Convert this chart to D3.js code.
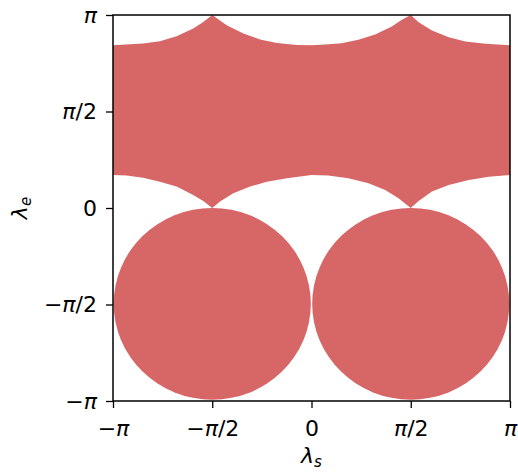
<!DOCTYPE html>
<html>
<head>
<meta charset="utf-8">
<script src="https://cdn.jsdelivr.net/npm/d3@7"></script>
<style>
  body { margin: 0; background: #fff; }
  text { font-family: "DejaVu Sans", sans-serif; }
</style>
</head>
<body>
<div id="chart-area"></div>
<script>
const PI = Math.PI;
const fillColor = '#d76666';

// axis ticks
const tickValues = [-PI, -PI / 2, 0, PI / 2, PI];
const tickLabels = ['−π', '−π/2', '0', 'π/2', 'π'];

// upper edge of the top band (lambda_s, lambda_e)
const upperX = [-PI, -2.665, -2.40, -2.135, -1.872, -1.713, -PI / 2, -1.342, -1.078, -0.813, -0.548, -0.23, 0,
                0.214, 0.477, 0.742, 1.007, 1.271, 1.43, PI / 2, 1.695, 1.906, 2.171, 2.436, 2.754, PI];
const upperY = [2.649, 2.677, 2.714, 2.795, 2.92, 3.028, PI, 2.974, 2.839, 2.742, 2.686, 2.654, 2.648,
                2.66, 2.683, 2.738, 2.825, 2.955, 3.063, PI, 3.025, 2.89, 2.78, 2.71, 2.673, 2.648];

// lower edge of the top band
const lowerX = [-PI, -2.929, -2.665, -2.40, -2.135, -1.872, -1.713, -PI / 2, -1.448, -1.237, -0.972, -0.707, -0.39, 0,
                0.267, 0.584, 0.902, 1.166, 1.377, PI / 2, 1.695, 1.906, 2.171, 2.489, 2.806, PI];
const lowerY = [0.537, 0.527, 0.494, 0.429, 0.348, 0.211, 0.114, 0.0, 0.104, 0.239, 0.348, 0.429, 0.483, 0.537,
                0.527, 0.483, 0.402, 0.293, 0.158, 0.0, 0.114, 0.267, 0.374, 0.455, 0.51, 0.537];

// the two round blobs at the bottom
const blobX = [-PI / 2, PI / 2];
const blobY = [-1.56, -1.56];
const blobR = [1.56, 1.56];

const width = 518, height = 472;
const mLeft = 113, mRight = 510, mTop = 15, mBottom = 401;
const fontSize = 22;

const svg = d3.select("#chart-area").append("svg")
  .attr("width", width)
  .attr("height", height);

const x = d3.scaleLinear().domain([-PI, PI]).range([mLeft, mRight]);
const y = d3.scaleLinear().domain([-PI, PI]).range([mBottom, mTop]);

// top band
const upper = upperX.map((v, i) => [v, upperY[i]]);
const lower = lowerX.map((v, i) => [v, lowerY[i]]).reverse();
const line = d3.line().x(d => x(d[0])).y(d => y(d[1]));

svg.append("path")
  .attr("d", line(upper.concat(lower)) + "Z")
  .attr("fill", fillColor);

// bottom blobs
svg.selectAll("ellipse.blob")
  .data(blobX)
  .enter().append("ellipse")
  .attr("class", "blob")
  .attr("cx", d => x(d))
  .attr("cy", (d, i) => y(blobY[i]))
  .attr("rx", (d, i) => x(blobR[i]) - x(0))
  .attr("ry", (d, i) => y(0) - y(blobR[i]))
  .attr("fill", fillColor);

// labels with italic pi
function piText(sel) {
  sel.each(function (d) {
    const t = d3.select(this);
    const s = tickLabels[tickValues.indexOf(d)];
    t.text(null);
    s.split(/(π)/).forEach(part => {
      if (!part) return;
      const ts = t.append("tspan").text(part);
      if (part === 'π') ts.attr("font-style", "italic");
    });
  });
}

const xAxis = svg.append("g")
  .attr("transform", `translate(0,${mBottom})`)
  .call(d3.axisBottom(x).tickValues(tickValues).tickSize(7).tickPadding(12).tickFormat(() => ''));
xAxis.selectAll(".tick text").call(piText);

const yAxis = svg.append("g")
  .attr("transform", `translate(${mLeft},0)`)
  .call(d3.axisLeft(y).tickValues(tickValues).tickSize(7).tickPadding(9).tickFormat(() => ''));
yAxis.selectAll(".tick text").call(piText);

svg.selectAll(".domain").remove();
svg.selectAll(".tick line").attr("stroke", "#000").attr("stroke-width", 1.3);
svg.selectAll(".tick text").attr("font-size", fontSize).attr("fill", "#000")
  .style("font-family", "'DejaVu Sans', sans-serif");

// frame
svg.append("rect")
  .attr("x", mLeft).attr("y", mTop)
  .attr("width", mRight - mLeft).attr("height", mBottom - mTop)
  .attr("fill", "none")
  .attr("stroke", "#000")
  .attr("stroke-width", 1.5);

// axis titles
const xl = svg.append("text")
  .attr("x", (mLeft + mRight) / 2)
  .attr("y", 463)
  .attr("text-anchor", "middle")
  .attr("font-size", fontSize);
xl.append("tspan").attr("font-style", "italic").text("λ");
xl.append("tspan").attr("font-style", "italic").attr("font-size", 15).attr("dy", 4).text("s");

const yl = svg.append("text")
  .attr("transform", `translate(27,${(mTop + mBottom) / 2}) rotate(-90)`)
  .attr("text-anchor", "middle")
  .attr("font-size", fontSize);
yl.append("tspan").attr("font-style", "italic").text("λ");
yl.append("tspan").attr("font-style", "italic").attr("font-size", 15).attr("dy", 4).text("e");
</script>
</body>
</html>
